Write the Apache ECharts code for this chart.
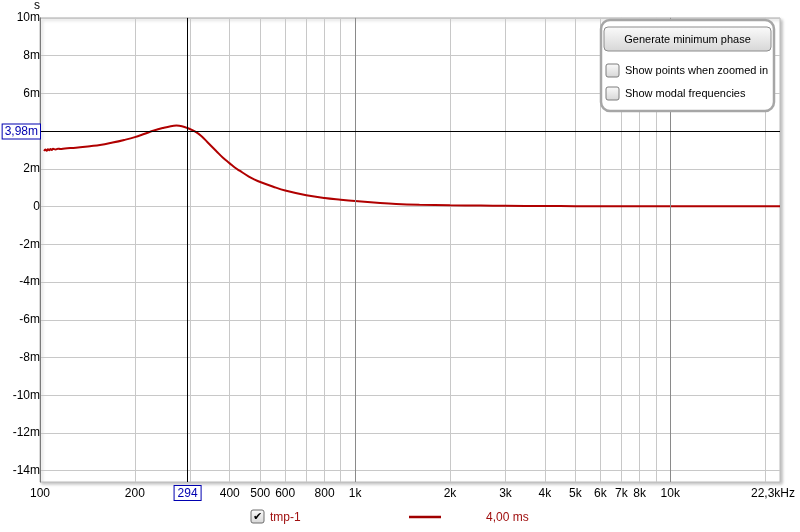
<!DOCTYPE html>
<html><head><meta charset="utf-8">
<script src="https://cdn.jsdelivr.net/npm/echarts@6/dist/echarts.min.js"></script>
<style>html,body{margin:0;padding:0;background:#fff}#c{width:800px;height:532px}</style>
</head><body><div id="c"></div><script>
// ---- data ----
const freqHz = [103,104,105,106,107,108,109,110,112,114,116,120,130,144,155,170,185,200,215,230,245,260,271,282,294,310,325,340,363,380,400,415,430,460,480,500,550,600,700,800,900,1000,1200,1350,1600,2000,2500,3000,4000,5000,7000,10000,15000,22300];
const delayMs = [2.95,3.02,2.96,3.04,2.99,3.05,3.00,3.06,3.03,3.07,3.05,3.08,3.12,3.20,3.26,3.39,3.53,3.68,3.86,4.03,4.16,4.26,4.29,4.26,4.16,3.98,3.74,3.41,2.93,2.60,2.29,2.07,1.90,1.59,1.43,1.30,1.05,0.85,0.60,0.45,0.36,0.29,0.19,0.14,0.10,0.07,0.05,0.04,0.03,0.02,0.015,0.01,0.01,0.01];
const xTickLabels = [100,200,400,500,600,800,1000,2000,3000,4000,5000,6000,7000,8000,10000,22300];
const xGridValues = [100,200,300,400,500,600,700,800,900,1000,2000,3000,4000,5000,6000,7000,8000,9000,10000,20000];
const xDecadeValues = [1000,10000];
const yTickValues = [-14,-12,-10,-8,-6,-4,-2,0,2,4,6,8,10];
const cursorFreq = 294;
const cursorDelay = 3.98;
const seriesName = 'tmp-1';
const legendValue = '4,00 ms';
const panelButton = 'Generate minimum phase';
const panelChecks = ['Show points when zoomed in','Show modal frequencies'];

const FONT = '"Liberation Sans", Arial, sans-serif';
const chart = echarts.init(document.getElementById('c'), null, {renderer:'canvas'});

function fmtX(v){
  if (v >= 22000) return '{e|22,3kHz}';
  if (v >= 1000) return (v/1000) + 'k';
  return String(v);
}
function fmtY(v){ return v === 0 ? '0' : v + 'm'; }

const boxGrad = () => new echarts.graphic.LinearGradient(0,0,0,1,[{offset:0,color:'#fbfbfb'},{offset:1,color:'#d6d6d6'}]);

const markData = [];
xDecadeValues.forEach(v => markData.push({xAxis:v, lineStyle:{color:'#8a8a8a',width:1,type:'solid'}, label:{show:false}}));
markData.push({xAxis:cursorFreq, lineStyle:{color:'#000',width:1,type:'solid'},
  label:{show:true, position:'start', distance:4, formatter:String(cursorFreq), color:'#0000b0',
    fontSize:12, fontFamily:FONT, backgroundColor:'#fff', borderColor:'#0000b0', borderWidth:1, padding:[2,3,0,3]}});
markData.push({yAxis:cursorDelay, lineStyle:{color:'#000',width:1,type:'solid'},
  label:{show:true, position:'start', distance:0, formatter:cursorDelay.toFixed(2).replace('.',',')+'m', color:'#0000b0',
    fontSize:12, fontFamily:FONT, backgroundColor:'#fff', borderColor:'#0000b0', borderWidth:1, padding:[2,2,0,2]}});

const option = {
  animation:false,
  backgroundColor:'#fff',
  grid:{left:40,right:20,top:16,bottom:50,show:true,backgroundColor:'#fff',borderColor:'#bcbcbc',borderWidth:1,
        shadowColor:'rgba(0,0,0,0.25)',shadowBlur:3,shadowOffsetX:2,shadowOffsetY:2},
  xAxis:{type:'log',logBase:10,min:100,max:22300,
    axisLine:{show:false}, axisTick:{show:false, customValues:xGridValues},
    splitLine:{show:true, lineStyle:{color:'#c8c8c8',width:1}},
    axisLabel:{customValues:xTickLabels, formatter:fmtX, color:'#000', fontSize:12, fontFamily:FONT, margin:6,
      showMinLabel:true, showMaxLabel:true, rich:{e:{fontSize:12,fontFamily:FONT,color:'#000',padding:[0,14,0,0]}}}},
  yAxis:{type:'value',min:-14.6,max:10,name:'s',nameLocation:'end',nameGap:3,
    nameTextStyle:{color:'#000',fontSize:12,fontFamily:FONT,padding:[0,6,0,0]},
    axisLine:{show:true,lineStyle:{color:'#7a7a7a',width:1}},
    axisTick:{show:false, customValues:yTickValues},
    axisLabel:{customValues:yTickValues, formatter:fmtY, color:'#000', fontSize:12, fontFamily:FONT, margin:0},
    splitLine:{show:true, lineStyle:{color:'#c8c8c8',width:1}}},
  series:[{name:seriesName,type:'line',data:freqHz.map((f,i)=>[f,delayMs[i]]),showSymbol:false,smooth:0.4,
    lineStyle:{color:'#b00000',width:2},itemStyle:{color:'#b00000'},z:3,
    markLine:{silent:true,symbol:['none','none'],animation:false,data:markData}}],
  graphic:[
    // options panel (top right)
    {type:'rect',shape:{x:601,y:20,width:173,height:91,r:9},style:{fill:'#fff',stroke:'#a6a6a6',lineWidth:2.5},z:10},
    {type:'rect',shape:{x:604,y:27,width:167,height:24,r:4},style:{fill:boxGrad(),stroke:'#8c8c8c',lineWidth:1},z:11},
    {type:'text',style:{x:687.5,y:40,text:panelButton,fill:'#000',font:'11px '+FONT,align:'center',verticalAlign:'middle'},z:12},
    {type:'rect',shape:{x:606,y:64,width:13,height:13,r:2},style:{fill:boxGrad(),stroke:'#7c7c7c',lineWidth:1},z:11},
    {type:'text',style:{x:625,y:71,text:panelChecks[0],fill:'#000',font:'11px '+FONT,verticalAlign:'middle'},z:12},
    {type:'rect',shape:{x:606,y:87,width:13,height:13,r:2},style:{fill:boxGrad(),stroke:'#7c7c7c',lineWidth:1},z:11},
    {type:'text',style:{x:625,y:94,text:panelChecks[1],fill:'#000',font:'11px '+FONT,verticalAlign:'middle'},z:12},
    // legend (bottom)
    {type:'rect',shape:{x:251,y:510,width:13,height:13,r:2},style:{fill:boxGrad(),stroke:'#6c6c6c',lineWidth:1},z:11},
    {type:'text',style:{x:257.5,y:517,text:'✔',fill:'#000',font:'bold 11px "DejaVu Sans"',align:'center',verticalAlign:'middle'},z:12},
    {type:'text',style:{x:270,y:518,text:seriesName,fill:'#a01010',font:'12px '+FONT,verticalAlign:'middle'},z:12},
    {type:'line',shape:{x1:409,y1:517,x2:441,y2:517},style:{stroke:'#a00000',lineWidth:2.5},z:12},
    {type:'text',style:{x:486,y:518,text:legendValue,fill:'#a01010',font:'12px '+FONT,verticalAlign:'middle'},z:12}
  ]
};
chart.setOption(option);
</script></body></html>
